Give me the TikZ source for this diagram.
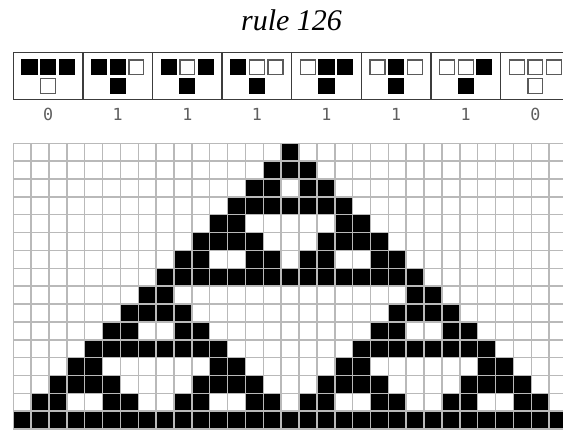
\documentclass[tikz,border=0pt]{standalone}
\usepackage{fontspec}
\setmainfont{Liberation Serif}
\newfontfamily\labfont{DejaVu Sans Mono}
\definecolor{gridgray}{RGB}{185,185,185}
\definecolor{boxgray}{RGB}{60,60,60}
\definecolor{labgray}{RGB}{95,95,95}
\definecolor{cz}{RGB}{255,255,255}
\definecolor{co}{RGB}{0,0,0}
\definecolor{dz}{RGB}{90,90,90}
\definecolor{do}{RGB}{0,0,0}
\begin{document}
\begin{tikzpicture}[x=0.75pt,y=-0.75pt,
  gridline/.style={draw=gridgray,line width=1.1pt},
  boxline/.style={draw=boxgray,line width=1.1pt},
  icell/.style={line width=1pt,minimum size=11.2pt,inner sep=0pt,outer sep=0pt,shape=rectangle},
  lab/.style={font=\labfont\fontsize{12.5}{14}\selectfont,text=labgray,inner sep=0pt},
  title/.style={font=\fontsize{22.5}{26}\selectfont\itshape,inner sep=0pt,anchor=base}]
\useasboundingbox (0,0) rectangle (563,433);
\fill[white] (0,0) rectangle (563,433);
\node[title] (title) at (291.5,30.7) {rule 126};
\begin{scope}
\clip (0,0) rectangle (563,433);
% rule boxes
\draw[boxline] (13.3,52.3) rectangle (569.6,99.5);
\foreach \k in {1,...,7} {
  \draw[boxline] ({13.3+69.6*\k},52.3) -- ({13.3+69.6*\k},99.5);
}
\foreach \k/\a/\b/\c/\o/\t in {0/o/o/o/z/0,1/o/o/z/o/1,2/o/z/o/o/1,3/o/z/z/o/1,4/z/o/o/o/1,5/z/o/z/o/1,6/z/z/o/o/1,7/z/z/z/z/0} {
  \pgfmathsetmacro{\cx}{13.3+69.6*\k+34.8}
  \node[icell,fill=c\a,draw=d\a] (l\k) at ({\cx-18.6},67.3) {};
  \node[icell,fill=c\b,draw=d\b] (m\k) at (\cx,67.3) {};
  \node[icell,fill=c\c,draw=d\c] (r\k) at ({\cx+18.6},67.3) {};
  \node[icell,fill=c\o,draw=d\o] (n\k) at (\cx,85.8) {};
  \node[lab] (t\k) at (\cx,114) {\t};
}
% cellular automaton
\foreach \r/\cs in {0/{15},1/{14,15,16},2/{13,14,16,17},3/{12,...,18},4/{11,12,18,19},
  5/{10,11,12,13,17,18,19,20},6/{9,10,13,14,16,17,20,21},7/{8,...,22},8/{7,8,22,23},
  9/{6,7,8,9,21,22,23,24},10/{5,6,9,10,20,21,24,25},11/{4,...,11,19,20,...,26},
  12/{3,4,11,12,18,19,26,27},13/{2,3,4,5,10,11,12,13,17,18,19,20,25,26,27,28},
  14/{1,2,5,6,9,10,13,14,16,17,20,21,24,25,28,29},15/{0,...,30}} {
  \foreach \c in \cs {
    \fill[black] ({13.3+17.86*\c},{143.3+17.86*\r}) rectangle ++(17.86,17.86);
  }
}
\foreach \i in {0,...,31} {
  \draw[gridline] ({13.3+17.86*\i},143.3) -- ({13.3+17.86*\i},{143.3+16*17.86});
}
\foreach \j in {0,...,16} {
  \draw[gridline] (13.3,{143.3+17.86*\j}) -- ({13.3+31*17.86},{143.3+17.86*\j});
}
\end{scope}
\end{tikzpicture}
\end{document}
